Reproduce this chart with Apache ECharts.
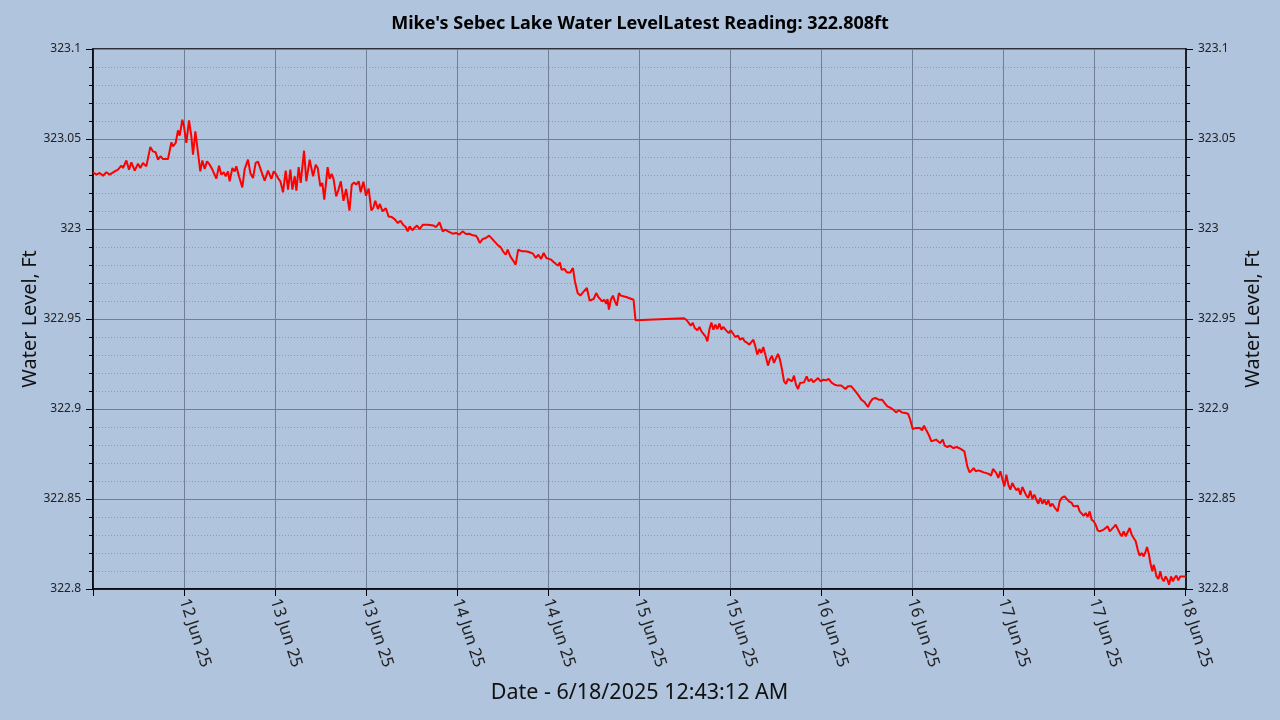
<!DOCTYPE html>
<html>
<head>
<meta charset="utf-8">
<title>Sebec Lake Water Level</title>
<script src="https://cdn.jsdelivr.net/npm/echarts@6/dist/echarts.min.js"></script>
<style>
  html, body { margin: 0; padding: 0; background: #B0C4DE; }
  #chart { width: 1280px; height: 720px; }
</style>
</head>
<body>
<div id="chart"></div>
<script>
// readings: [hours since 12 Jun 2025 00:00, level ft]
var jun12 = [[0.00,323.0315],[0.44,323.0302],[0.88,323.0311],[1.32,323.0296],[1.76,323.0315],[2.20,323.0302],[2.42,323.0293],[2.86,323.0320],[3.30,323.0330],[3.74,323.0352],[3.96,323.0339],[4.40,323.0381],[4.75,323.0330],[5.06,323.0370],[5.50,323.0324],[5.93,323.0363],[6.24,323.0339],[6.59,323.0367],[7.03,323.0348],[7.56,323.0456],[7.91,323.0431],[8.26,323.0426],[8.57,323.0385],[8.88,323.0404],[9.23,323.0389],[9.89,323.0389],[10.33,323.0481],[10.55,323.0459],[10.90,323.0478],[11.21,323.0548],[11.43,323.0519],[11.78,323.0607],[12.00,323.0570],[12.31,323.0478],[12.66,323.0604],[12.97,323.0515],[13.19,323.0413],[13.50,323.0543],[13.85,323.0422],[14.15,323.0320],[14.42,323.0381],[14.73,323.0333],[15.03,323.0376],[15.39,323.0357],[15.74,323.0330],[15.96,323.0339],[16.27,323.0280],[16.62,323.0352],[16.92,323.0302],[17.23,323.0315],[17.50,323.0293],[17.80,323.0320],[18.02,323.0265],[18.38,323.0339],[18.68,323.0320],[18.90,323.0348],[19.25,323.0293],[19.69,323.0231],[20.00,323.0333],[20.44,323.0385],[20.75,323.0311],[21.10,323.0283],[21.45,323.0367],[21.76,323.0374],[22.20,323.0320],[22.64,323.0269],[23.08,323.0324],[23.52,323.0278],[23.83,323.0320]];
var jun13 = [[24.09,323.0307],[24.40,323.0283],[24.71,323.0265],[25.06,323.0204],[25.41,323.0324],[25.72,323.0219],[26.02,323.0330],[26.29,323.0219],[26.60,323.0293],[26.82,323.0213],[27.12,323.0344],[27.39,323.0256],[27.83,323.0435],[28.13,323.0265],[28.57,323.0385],[29.02,323.0293],[29.37,323.0357],[29.63,323.0339],[29.98,323.0237],[30.24,323.0256],[30.50,323.0163],[30.94,323.0344],[31.20,323.0278],[31.46,323.0307],[31.72,323.0278],[32.07,323.0181],[32.38,323.0219],[32.68,323.0265],[33.03,323.0157],[33.38,323.0222],[33.82,323.0102],[34.12,323.0246],[34.43,323.0259],[34.69,323.0246],[35.04,323.0265],[35.30,323.0204],[35.65,323.0263],[36.00,323.0185],[36.35,323.0224],[36.70,323.0104],[36.96,323.0117],[37.22,323.0157],[37.57,323.0111],[37.83,323.0139],[38.18,323.0098],[38.62,323.0115],[38.97,323.0070],[39.40,323.0067],[39.84,323.0052],[40.19,323.0033],[40.54,323.0046],[40.89,323.0024],[41.24,323.0011],[41.50,322.9987],[41.76,323.0015],[42.11,322.9993],[42.37,323.0006],[42.72,323.0019],[43.07,323.0000],[43.51,323.0024],[44.16,323.0024],[44.90,323.0019],[45.25,323.0011],[45.69,323.0037],[46.12,322.9987],[46.47,322.9996],[46.82,322.9987],[47.08,322.9996],[47.43,322.9974],[47.87,322.9978]];
var jun14 = [[48.31,322.9969],[48.74,322.9987],[49.18,322.9972],[49.62,322.9974],[50.05,322.9965],[50.49,322.9963],[50.71,322.9950],[51.01,322.9922],[51.36,322.9944],[51.80,322.9950],[52.23,322.9963],[52.58,322.9948],[52.93,322.9931],[53.33,322.9913],[53.76,322.9898],[54.07,322.9876],[54.42,322.9857],[54.68,322.9885],[55.03,322.9848],[55.38,322.9826],[55.73,322.9802],[56.07,322.9885],[56.60,322.9876],[57.03,322.9876],[57.47,322.9872],[58.03,322.9863],[58.38,322.9839],[58.73,322.9857],[59.08,322.9833],[59.43,322.9867],[59.78,322.9839],[60.04,322.9844],[60.39,322.9830],[60.66,322.9820],[61.01,322.9807],[61.36,322.9796],[61.54,322.9815],[61.80,322.9774],[62.15,322.9778],[62.50,322.9759],[62.94,322.9759],[63.29,322.9783],[63.55,322.9709],[63.91,322.9644],[64.26,322.9630],[64.61,322.9648],[64.87,322.9659],[65.13,322.9672],[65.49,322.9602],[65.75,322.9607],[66.01,322.9611],[66.36,322.9644],[66.63,322.9622],[66.89,322.9626],[67.15,322.9598],[67.42,322.9607],[67.68,322.9585],[67.85,322.9611],[68.03,322.9552],[68.29,322.9607],[68.56,322.9630],[68.82,322.9598],[69.08,322.9574],[69.35,322.9644],[69.61,322.9630],[70.31,322.9622],[71.28,322.9607],[71.54,322.9493]];
var jun15 = [[77.95,322.9504],[78.30,322.9493],[78.56,322.9487],[78.82,322.9463],[79.09,322.9478],[79.35,322.9450],[79.70,322.9437],[79.97,322.9456],[80.23,322.9431],[80.49,322.9441],[80.76,322.9404],[81.02,322.9376],[81.28,322.9441],[81.54,322.9481],[81.81,322.9441],[82.07,322.9469],[82.33,322.9444],[82.60,322.9474],[82.86,322.9441],[83.12,322.9456],[83.48,322.9437],[83.83,322.9422],[84.09,322.9437],[84.35,322.9422],[84.70,322.9400],[85.06,322.9407],[85.32,322.9385],[85.67,322.9394],[85.93,322.9376],[86.28,322.9367],[86.55,322.9357],[86.81,322.9367],[87.08,322.9385],[87.34,322.9348],[87.60,322.9302],[87.87,322.9333],[88.13,322.9311],[88.39,322.9344],[88.66,322.9302],[89.01,322.9241],[89.27,322.9278],[89.54,322.9296],[89.80,322.9256],[90.07,322.9283],[90.33,322.9306],[90.59,322.9274],[90.86,322.9219],[91.12,322.9154],[91.38,322.9139],[91.65,322.9167],[91.91,322.9172],[92.18,322.9154],[92.44,322.9185],[92.70,322.9135],[92.97,322.9111],[93.23,322.9144],[93.49,322.9154],[93.76,322.9148],[94.11,322.9181],[94.37,322.9154],[94.73,322.9167],[94.99,322.9148],[95.25,322.9144],[95.60,322.9172]];
var jun16 = [[95.96,322.9154],[96.31,322.9163],[96.66,322.9159],[97.01,322.9167],[97.36,322.9148],[97.80,322.9135],[98.24,322.9130],[98.68,322.9130],[99.21,322.9111],[99.56,322.9126],[100.00,322.9126],[100.44,322.9104],[100.88,322.9080],[101.32,322.9052],[101.76,322.9037],[102.20,322.9011],[102.46,322.9037],[102.81,322.9056],[103.17,322.9061],[103.61,322.9052],[104.04,322.9052],[104.40,322.9033],[104.75,322.9015],[105.19,322.9006],[105.54,322.8996],[105.89,322.8981],[106.24,322.8993],[106.68,322.8981],[107.12,322.8978],[107.47,322.8974],[107.74,322.8944],[108.09,322.8889],[108.44,322.8894],[108.70,322.8889],[109.06,322.8894],[109.32,322.8881],[109.58,322.8907],[109.85,322.8885],[110.20,322.8857],[110.55,322.8820],[110.81,322.8826],[111.17,322.8830],[111.43,322.8839],[111.69,322.8811],[112.05,322.8830],[112.31,322.8796],[112.66,322.8789],[113.01,322.8796],[113.45,322.8783],[113.89,322.8789],[114.42,322.8778],[114.90,322.8765],[115.30,322.8680],[115.60,322.8648],[115.87,322.8659],[116.13,322.8672],[116.40,322.8654],[116.75,322.8659],[117.10,322.8654],[117.45,322.8648],[117.80,322.8644],[118.15,322.8639],[118.42,322.8630],[118.68,322.8667],[118.86,322.8678],[119.12,322.8644],[119.38,322.8617],[119.65,322.8654],[119.91,322.8611]];
var jun17 = [[120.18,322.8570],[120.44,322.8635],[120.70,322.8580],[120.97,322.8552],[121.23,322.8589],[121.49,322.8567],[121.76,322.8548],[122.02,322.8561],[122.29,322.8524],[122.55,322.8567],[122.81,322.8543],[123.08,322.8519],[123.34,322.8506],[123.60,322.8546],[123.87,322.8500],[124.13,322.8524],[124.40,322.8496],[124.66,322.8474],[124.92,322.8506],[125.19,322.8474],[125.45,322.8496],[125.71,322.8469],[125.98,322.8493],[126.24,322.8459],[126.51,322.8474],[126.86,322.8450],[127.21,322.8431],[127.47,322.8487],[127.74,322.8506],[128.09,322.8515],[128.35,322.8506],[128.70,322.8487],[129.06,322.8478],[129.32,322.8459],[129.58,322.8450],[129.85,322.8463],[130.11,322.8431],[130.37,322.8441],[130.64,322.8407],[130.90,322.8422],[131.17,322.8400],[131.43,322.8431],[131.69,322.8385],[131.96,322.8376],[132.22,322.8357],[132.48,322.8326],[132.75,322.8320],[133.01,322.8311],[133.28,322.8330],[133.54,322.8339],[133.80,322.8348],[134.07,322.8320],[134.33,322.8330],[134.59,322.8344],[134.86,322.8357],[135.12,322.8348],[135.39,322.8311],[135.65,322.8293],[135.91,322.8320],[136.18,322.8293],[136.44,322.8296],[136.70,322.8339],[136.97,322.8302],[137.23,322.8283],[137.50,322.8265],[137.76,322.8219],[138.02,322.8185],[138.29,322.8200],[138.55,322.8181],[138.81,322.8209],[138.99,322.8233],[139.25,322.8191],[139.43,322.8144],[139.69,322.8098],[139.87,322.8135],[140.06,322.8107],[140.23,322.8070],[140.49,322.8056],[140.75,322.8098],[140.93,322.8061],[141.19,322.8043],[141.45,322.8070],[141.72,322.8048],[141.89,322.8024],[142.16,322.8070],[142.42,322.8043],[142.60,322.8061],[142.86,322.8074],[143.12,322.8048],[143.39,322.8070],[143.65,322.8080],[143.91,322.8070],[144.13,322.8070]];

var startDay = 12;          // 12 Jun 2025 00:00 = hour 0
var monthLabel = ' Jun 25';
var titleText = "Mike's Sebec Lake Water LevelLatest Reading: 322.808ft";
var xName = 'Date - 6/18/2025 12:43:12 AM';
var yName = 'Water Level, Ft';

var readings = jun12.concat(jun13, jun14, jun15, jun16, jun17);
var lastHour = readings[readings.length - 1][0];

var font = "'Segoe UI', 'Noto Sans', sans-serif";
var gridColor = '#6f7f98';
var minorColor = '#8c9ab0';

function dayLabel(v) {
    // only whole 12h ticks, skip the left edge
    if (v <= 0 || Math.abs(v / 12 - Math.round(v / 12)) > 1e-6) return '';
    return (startDay + Math.floor(v / 24 + 1e-9)) + monthLabel;
}

function yAxisOpt(pos, gap, withGrid) {
    return {
        type: 'value',
        position: pos,
        min: 322.8,
        max: 323.1,
        interval: 0.05,
        name: yName,
        nameLocation: 'middle',
        nameGap: gap,
        nameRotate: 90,
        nameMoveOverlap: false,
        nameTextStyle: { fontFamily: font, fontSize: 20, color: '#111' },
        axisLine: { show: true, lineStyle: { color: '#000', width: 1.5 } },
        axisTick: { show: true, inside: false, length: 7, lineStyle: { color: '#000' } },
        minorTick: { show: true, splitNumber: 5, length: 4, lineStyle: { color: '#000' } },
        axisLabel: {
            fontFamily: font, fontSize: 12, color: '#222', margin: 12,
            formatter: function (v) { return String(+v.toFixed(3)); }
        },
        splitLine: { show: withGrid, lineStyle: { color: gridColor, width: 1 } },
        minorSplitLine: { show: withGrid, lineStyle: { color: minorColor, type: [1, 2], width: 1 } }
    };
}

var dom = document.getElementById('chart');
var myChart = echarts.init(dom);

var option = {
    backgroundColor: '#B0C4DE',
    animation: false,
    title: {
        text: titleText,
        left: 'center',
        top: 10,
        textStyle: { fontFamily: font, fontSize: 18, fontWeight: 'bold', color: '#000' }
    },
    grid: {
        left: 93, right: 94, top: 49, bottom: 131,
        show: true, borderColor: '#000', borderWidth: 1.5, backgroundColor: 'transparent'
    },
    xAxis: {
        type: 'value',
        min: 0,
        max: lastHour,
        interval: 12,
        name: xName,
        nameLocation: 'middle',
        nameGap: 93,
        nameMoveOverlap: false,
        nameTextStyle: { fontFamily: font, fontSize: 21.5, color: '#111' },
        axisLine: { show: true, lineStyle: { color: '#000', width: 1.5 } },
        axisTick: { show: true, inside: false, length: 7, lineStyle: { color: '#000' } },
        axisLabel: {
            fontFamily: font, fontSize: 16.5, color: '#222', rotate: -72, margin: 10,
            showMaxLabel: false, formatter: dayLabel
        },
        splitLine: { show: true, lineStyle: { color: gridColor, width: 1 } }
    },
    yAxis: [yAxisOpt('left', 53, true), yAxisOpt('right', 57, false)],
    series: [{
        type: 'line',
        data: readings,
        showSymbol: false,
        symbol: 'none',
        lineStyle: { color: '#ff0000', width: 2 },
        yAxisIndex: 0
    }]
};
myChart.setOption(option);
</script>
</body>
</html>
